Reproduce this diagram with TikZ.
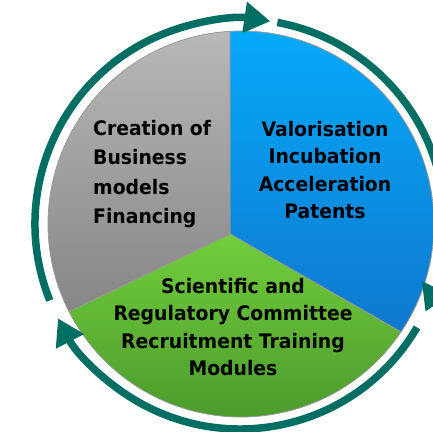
\documentclass[tikz,border=0pt]{standalone}
\usepackage{fontspec}
\setmainfont{DejaVu Sans}[FakeStretch=0.94]
\usetikzlibrary{calc}
\usetikzlibrary{arrows.meta}
\definecolor{arrowteal}{RGB}{0,110,98}
\tikzset{
	sector_text/.style = {
		align=center,
		inner sep=0pt,
		font=\bfseries\fontsize{20}{27.5}\selectfont
	},
	sector/.style = {
		draw=black!40,
		line width=0.8pt
	},
	cycle_arrow/.style = {
		draw=arrowteal,
		line width=7.5pt,
		-{Triangle[length=26pt,width=30pt]}
	},
}
\begin{document}
\begin{tikzpicture}[x=1pt,y=1pt]
\useasboundingbox (0,0) rectangle (433,431);
\clip (0,0) rectangle (433,431);
\coordinate (pie) at (241,207);
\coordinate (apex) at (230,197);
\coordinate (ring) at (240,207);
\shade[sector, top color={rgb,255:red,6;green,170;blue,250}, bottom color={rgb,255:red,14;green,120;blue,206}]
	(apex) -- ($(pie)+(93.3:193)$) arc[start angle=93.3, end angle=-34, radius=193] -- cycle;
\shade[sector, top color={rgb,255:red,114;green,206;blue,60}, bottom color={rgb,255:red,70;green,148;blue,42}]
	(apex) -- ($(pie)+(-34:193)$) arc[start angle=-34, end angle=-153, radius=193] -- cycle;
\shade[sector, top color={rgb,255:red,184;green,184;blue,184}, bottom color={rgb,255:red,134;green,134;blue,134}]
	(apex) -- ($(pie)+(207:193)$) arc[start angle=207, end angle=93.3, radius=193] -- cycle;
\node[sector_text, align=left, anchor=west, font=\bfseries\fontsize{20}{29.3}\selectfont] (creation) at (93,257) {Creation of\\Business\\models\\Financing};
\node[sector_text] (valorisation) at (325,261) {Valorisation\\Incubation\\Acceleration\\Patents};
\node[sector_text] (committee) at (233,104) {Scientific and\\Regulatory Committee\\Recruitment Training\\Modules};
\coordinate (a_start) at ($(ring)+(201.9:205)$);
\coordinate (b_start) at ($(ring)+(79.5:205)$);
\coordinate (c_start) at ($(ring)+(-30.3:205)$);
\draw[cycle_arrow] (a_start) arc[start angle=201.9, end angle=81.5, radius=205];
\draw[cycle_arrow] (b_start) arc[start angle=79.5, end angle=-25.3, radius=205];
\draw[cycle_arrow] (c_start) arc[start angle=-30.3, end angle=-152.6, radius=205];
\end{tikzpicture}
\end{document}
